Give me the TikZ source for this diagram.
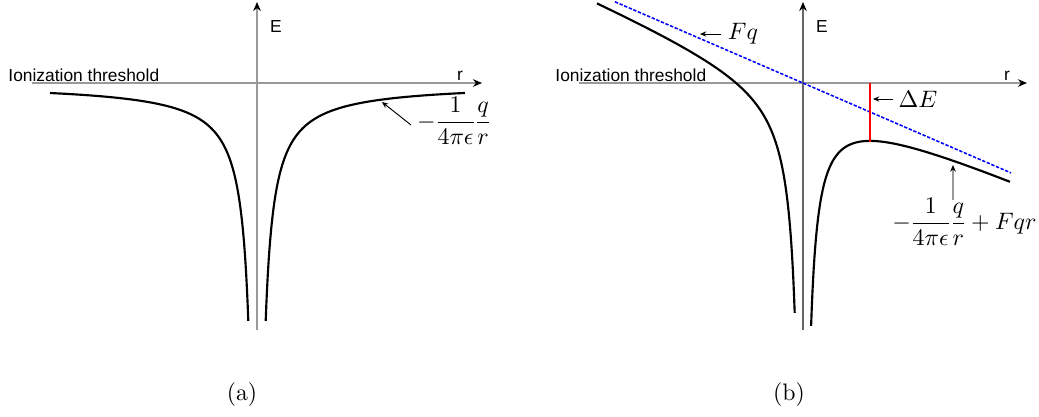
\documentclass[tikz,border=0pt]{standalone}
\usepackage{amsmath}
\usepackage{fontspec}
\newfontfamily\labelsans{Liberation Sans}
\usetikzlibrary{arrows.meta}
\nulldelimiterspace=0.8pt
\newcommand{\tightfrac}[2]{{\displaystyle\frac{#1}{#2}}}
\begin{document}
\begin{tikzpicture}[x=0.42pt,y=-0.42pt,
  axisline/.style={line width=0.45pt,draw=black!40,-{Stealth[length=3.8pt,width=3.2pt,black]}},
  axisdark/.style={line width=0.45pt,draw=black!60,-{Stealth[length=3.8pt,width=3.2pt,black]}},
  curve/.style={line width=0.9pt,black},
  fieldline/.style={line width=0.65pt,blue,dash pattern=on 1.4pt off 0.7pt},
  gap/.style={line width=0.9pt,red},
  note/.style={line width=0.4pt,-{Stealth[length=2.6pt,width=2.2pt]}},
  notegray/.style={line width=0.45pt,draw=black!40,-{Stealth[length=2.8pt,width=2.4pt,black]}},
  sanslabel/.style={font=\labelsans\fontsize{7.3}{9}\selectfont,inner sep=0pt},
  mathlabel/.style={font=\fontsize{10}{12}\selectfont,inner sep=0pt},
  caption/.style={font=\fontsize{10}{12}\selectfont,inner sep=0pt}]
\useasboundingbox (0,0) rectangle (1039,416);

% ---------------- panel (a) ----------------
\coordinate (aL) at (32,83);
\coordinate (aR) at (482,83);
\coordinate (aB) at (257,330);
\coordinate (aT) at (257,2);
\draw[axisline] (aL) -- (aR);
\draw[axisline] (aB) -- (aT);
\node[sanslabel,anchor=base west] (athr) at (8,81) {Ionization threshold};
\node[sanslabel] (aE) at (276,27) {E};
\node[sanslabel] (ar) at (460,76) {r};
\draw[curve] plot[domain=-207:-8.7,samples=300] ({257+\x},{83+2070/abs(\x)});
\draw[curve] plot[domain=8.7:208,samples=300] ({257+\x},{83+2070/abs(\x)});
\node[mathlabel] (alab) at (454,121) {$-\tightfrac{1}{4\pi\epsilon}\tightfrac{q}{r}$};
\coordinate (apt) at (382,102);
\coordinate (atail) at (411,125);
\draw[note] (atail) -- (apt);
\node[caption] (capa) at (242,395) {(a)};

% ---------------- panel (b) ----------------
\coordinate (bL) at (579,83);
\coordinate (bR) at (1027,83);
\coordinate (bB) at (803,330);
\coordinate (bT) at (803,2);
\draw[axisline] (bL) -- (bR);
\draw[axisdark] (bB) -- (bT);
\node[sanslabel,anchor=base west] (bthr) at (555,81) {Ionization threshold};
\node[sanslabel] (bE) at (822,27) {E};
\node[sanslabel] (br) at (1007,76) {r};
\coordinate (f1) at (615,1.8);
\coordinate (f2) at (1011,172.9);
\draw[fieldline] (f1) -- (f2);
\draw[curve] plot[domain=-206:-8.3,samples=300] ({803+\x},{83+1939/abs(\x)+0.432*\x});
\draw[curve] plot[domain=8.1:207,samples=300] ({803+\x},{83+1939/abs(\x)+0.432*\x});
\coordinate (gtop) at (870,83);
\coordinate (gbot) at (870,141.9);
\draw[gap] (gtop) -- (gbot);
\node[mathlabel] (fq) at (743,34) {$Fq$};
\coordinate (fqtip) at (700,34);
\draw[note] (fq.west) ++(-6,0) coordinate (fqtail) (fqtail) -- (fqtip);
\node[mathlabel] (de) at (918,99) {$\Delta E$};
\coordinate (detip) at (873,99);
\draw[note] (de.west) ++(-5,0) coordinate (detail) (detail) -- (detip);
\node[mathlabel,anchor=east] (blab) at (1037,222) {$-\tightfrac{1}{4\pi\epsilon}\tightfrac{q}{r}+Fqr$};
\coordinate (btail) at (953,200);
\coordinate (bpt) at (953,165);
\draw[notegray] (btail) -- (bpt);
\node[caption] (capb) at (789,395) {(b)};
\end{tikzpicture}
\end{document}
